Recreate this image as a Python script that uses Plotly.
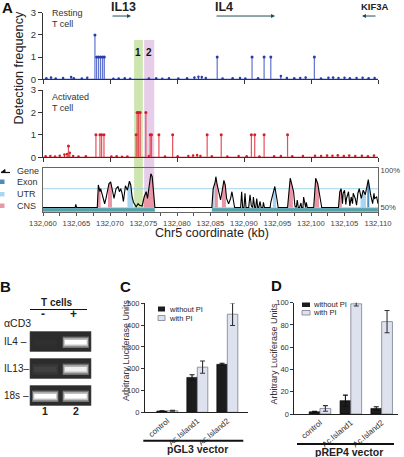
import numpy as np
import plotly.graph_objects as go

W, H = 404, 457
FONT = "Liberation Sans, Arial, sans-serif"

# ---------------- Panel A data ----------------
x_range_kb = [132060, 132110]

resting_spike_kb = [132067.75, 132068.0, 132068.3, 132068.6, 132068.9, 132069.15,
                    132086.0, 132091.2, 132093.0, 132094.0, 132100.5]
resting_spike_val = [2, 1, 1, 1, 1, 1, 1, 1, 1, 1, 1]

resting_noise_kb = [132060.5, 132061.2, 132061.9, 132063.0, 132064.2, 132064.6, 132065.8, 132066.6,
                    132070.5, 132071.3, 132072.2, 132073.0, 132075.8, 132076.9, 132077.8, 132078.8,
                    132080.2, 132081.5, 132082.6, 132083.2, 132083.7, 132084.3, 132086.8, 132088.3,
                    132089.4, 132090.2, 132092.1, 132095.5, 132096.4, 132097.5, 132098.4, 132099.2,
                    132101.5, 132102.6, 132103.3, 132104.1, 132105.0, 132105.8, 132106.8, 132107.7,
                    132108.6, 132109.5]
resting_noise_val = [0.05, 0.08, 0.04, 0.06, 0.1, 0.05, 0.04, 0.07,
                     0.03, 0.04, 0.05, 0.03, 0.04, 0.05, 0.03, 0.05,
                     0.04, 0.05, 0.08, 0.12, 0.1, 0.06, 0.04, 0.05,
                     0.06, 0.04, 0.05, 0.15, 0.06, 0.05, 0.06, 0.08,
                     0.04, 0.07, 0.08, 0.06, 0.07, 0.05, 0.06, 0.07,
                     0.05, 0.06]

activated_spike_kb = [132063.8, 132067.9, 132068.5, 132068.75, 132069.1, 132073.9, 132074.05,
                      132074.25, 132074.5, 132075.35, 132076.0, 132076.2, 132077.3, 132079.35,
                      132084.5, 132086.6, 132091.1, 132091.6, 132093.0, 132096.5]
activated_spike_val = [0.5, 1, 1, 1, 1, 1, 2, 2, 2, 2, 1, 1, 1, 1, 1, 1, 1, 1, 1, 1]

activated_noise_kb = [132060.4, 132061.1, 132061.8, 132062.5, 132063.2, 132063.6, 132064.0, 132064.5,
                      132065.3, 132066.4, 132070.2, 132071.0, 132071.8, 132072.6, 132075.8, 132078.2,
                      132080.1, 132081.7, 132082.4, 132083.0, 132083.5, 132085.2, 132087.5, 132089.2,
                      132090.4, 132092.3, 132094.5, 132095.5, 132097.2, 132098.8, 132100.6, 132101.5,
                      132102.4, 132103.2, 132104.0, 132104.9, 132105.7, 132106.6, 132107.6, 132108.5,
                      132109.4]
activated_noise_val = [0.05, 0.06, 0.04, 0.07, 0.12, 0.15, 0.2, 0.06,
                       0.04, 0.05, 0.04, 0.05, 0.03, 0.04, 0.06, 0.04,
                       0.05, 0.06, 0.08, 0.1, 0.06, 0.05, 0.04, 0.06,
                       0.05, 0.04, 0.05, 0.06, 0.05, 0.06, 0.07, 0.06,
                       0.08, 0.07, 0.09, 0.06, 0.08, 0.06, 0.07, 0.05,
                       0.08]

cons_kb = [132060.0, 132064.8, 132064.9, 132065.0,
           132068.1, 132068.26, 132068.5, 132068.6, 132069.0, 132069.2, 132069.4, 132069.85, 132070.1,
           132070.4, 132070.6, 132070.9, 132071.2, 132071.4, 132071.6, 132071.8, 132072.0, 132072.3,
           132072.6, 132072.9, 132073.1, 132073.3, 132073.5, 132073.9, 132074.2, 132074.4, 132074.8,
           132075.1, 132075.4, 132075.6, 132075.9, 132076.1, 132076.3, 132076.5, 132076.7,
           132085.2, 132085.4, 132085.7, 132085.8, 132086.0, 132086.3, 132086.5, 132086.8, 132087.0,
           132087.2, 132087.4, 132087.7, 132088.0, 132088.2, 132088.4, 132088.6,
           132089.5, 132089.65, 132089.8, 132090.0, 132090.15, 132090.3, 132090.7, 132090.9, 132091.1,
           132091.3, 132091.4, 132091.6, 132091.75, 132091.9, 132092.05, 132092.2, 132092.4, 132092.55,
           132092.8, 132092.9, 132093.05,
           132093.9, 132094.0, 132094.3, 132094.6, 132094.9, 132095.1,
           132096.5, 132096.6, 132096.9, 132097.1, 132097.4, 132097.6, 132097.8, 132097.95, 132098.1,
           132098.3, 132098.5, 132098.6, 132098.8, 132098.9, 132099.1, 132099.2, 132099.3, 132099.45,
           132100.4, 132100.5, 132100.7, 132101.0, 132101.3, 132101.6,
           132104.1, 132104.3, 132104.5, 132104.7, 132104.8, 132105.0, 132105.2, 132105.3, 132105.6,
           132105.8, 132106.0, 132106.2, 132106.3, 132106.6, 132106.8, 132107.0, 132107.2, 132107.5,
           132107.8, 132108.1, 132108.4, 132108.55, 132108.9, 132109.2, 132109.4, 132109.5, 132109.8,
           132110.0]
cons_pct = [50, 50, 54, 50,
            50, 80, 71, 75, 62, 55, 62, 82, 84,
            71, 62, 75, 78, 71, 75, 69, 58, 79,
            73, 85, 80, 64, 57, 51, 55, 53, 52,
            64, 71, 62, 80, 95, 91, 71, 50,
            50, 75, 84, 91, 80, 67, 60, 75, 86,
            80, 62, 55, 62, 71, 57, 50,
            50, 71, 50, 50, 69, 50, 50, 67, 52,
            50, 64, 50, 50, 62, 50, 50, 58, 50,
            50, 57, 50,
            50, 57, 67, 78, 62, 50,
            50, 62, 89, 82, 71, 52, 50, 60, 50,
            50, 56, 50, 50, 64, 50, 50, 57, 50,
            50, 62, 89, 82, 67, 50,
            50, 71, 75, 55, 69, 73, 54, 62, 71,
            52, 64, 55, 69, 62, 53, 69, 75, 62,
            73, 67, 80, 87, 67, 55, 69, 62, 64,
            55]

cons_regions_start = [132068.15, 132069.7, 132075.0, 132085.6, 132086.7, 132096.6, 132100.5,
                      132104.2, 132072.6, 132085.25, 132094.3, 132107.4, 132108.4]
cons_regions_end = [132068.6, 132070.3, 132076.7, 132086.1, 132087.3, 132097.3, 132101.2,
                    132104.6, 132073.5, 132085.6, 132094.8, 132108.2, 132108.7]
cons_regions_type = ["CNS", "CNS", "CNS", "CNS", "CNS", "CNS", "CNS",
                     "CNS", "UTR", "UTR", "UTR", "UTR", "Exon"]

gene_band_start = [132060, 132085.2]
gene_band_end = [132076.7, 132110]

genes = ["IL13", "IL4", "KIF3A"]
gene_tail_kb = [132070.15, 132085.67, 132109.85]
gene_head_kb = [132073.13, 132094.63, 132107.61]

highlight_names = ["1", "2"]
highlight_start = [132073.6, 132075.1]
highlight_end = [132074.9, 132076.6]

# ---------------- Panel B data ----------------
gel_rows = ["IL4", "IL13", "18s"]
gel_lanes = [1, 2]
gel_intensity = {"IL4": [0.02, 1.0], "IL13": [0.1, 0.92], "18s": [1.0, 1.0]}

# ---------------- Panel C / D data ----------------
constructs = ["control", "Ac.Island1", "Ac.Island2"]
pgl3_without = [6, 160, 220]
pgl3_without_err = [1, 12, 5]
pgl3_with = [7, 207, 450]
pgl3_with_err = [2, 28, 52]
prep4_without = [2, 12, 5]
prep4_without_err = [0.5, 5, 1.5]
prep4_with = [5, 99, 83]
prep4_with_err = [2.5, 2, 10]

# ---------------- helpers ----------------
def PX(a):
    return a / W


def PY(b):
    return 1 - b / H


fig = go.Figure()
annotations = []
shapes = []


def text(x, y, s, size=10, bold=False, xanchor="center", color="#222", angle=0, xref="paper", yref="paper"):
    annotations.append(dict(
        x=PX(x) if xref == "paper" else x, y=PY(y) if yref == "paper" else y,
        xref=xref, yref=yref, text=("<b>%s</b>" % s) if bold else s,
        showarrow=False, xanchor=xanchor, yanchor="middle", textangle=angle,
        font=dict(family=FONT, size=size, color=color)))


def rect(x0, y0, x1, y1, color, line=None):
    shapes.append(dict(type="rect", xref="paper", yref="paper", x0=PX(x0), x1=PX(x1),
                       y0=PY(y1), y1=PY(y0), fillcolor=color,
                       line=dict(width=0) if line is None else line))


def hline(x0, x1, y, width=1, color="#111"):
    shapes.append(dict(type="line", xref="paper", yref="paper", x0=PX(x0), x1=PX(x1),
                       y0=PY(y), y1=PY(y), line=dict(color=color, width=width)))


def stems(kb, val):
    xs, ys = [], []
    for k, v in zip(kb, val):
        xs += [k, k, None]
        ys += [0, v, None]
    return xs, ys


# ---------------- Panel A traces ----------------
tracks = [
    ("x", "y", resting_spike_kb, resting_spike_val, resting_noise_kb, resting_noise_val,
     "rgb(95,115,205)", "rgb(40,60,170)"),
    ("x2", "y2", activated_spike_kb, activated_spike_val, activated_noise_kb, activated_noise_val,
     "rgb(228,80,90)", "rgb(212,30,40)"),
]
for xa, ya, skb, sval, nkb, nval, lc, mc in tracks:
    fig.add_trace(go.Scatter(x=x_range_kb, y=[0, 0], mode="lines", line=dict(color=mc, width=1.2),
                             xaxis=xa, yaxis=ya, showlegend=False, hoverinfo="skip"))
    sx, sy = stems(nkb, nval)
    fig.add_trace(go.Scatter(x=sx, y=sy, mode="lines", line=dict(color=mc, width=1),
                             xaxis=xa, yaxis=ya, showlegend=False, hoverinfo="skip"))
    fig.add_trace(go.Scatter(x=nkb, y=nval, mode="markers", marker=dict(color=mc, size=2.5),
                             xaxis=xa, yaxis=ya, showlegend=False, cliponaxis=False))
    sx, sy = stems(skb, sval)
    fig.add_trace(go.Scatter(x=sx, y=sy, mode="lines", line=dict(color=lc, width=1.2),
                             xaxis=xa, yaxis=ya, showlegend=False, hoverinfo="skip"))
    fig.add_trace(go.Scatter(x=skb, y=sval, mode="markers", marker=dict(color=mc, size=3),
                             xaxis=xa, yaxis=ya, showlegend=False, cliponaxis=False))

# conservation fills
fill_colors = {"CNS": "rgb(234,150,166)", "UTR": "rgb(168,214,240)", "Exon": "rgb(80,140,185)"}
for s, e, t in zip(cons_regions_start, cons_regions_end, cons_regions_type):
    xs = [s] + [k for k in cons_kb if s < k < e] + [e]
    ys = list(np.interp(xs, cons_kb, cons_pct))
    fig.add_trace(go.Scatter(x=xs + [e, s], y=ys + [50, 50], fill="toself", fillcolor=fill_colors[t],
                             mode="lines", line=dict(width=0), xaxis="x3", yaxis="y3",
                             showlegend=False, hoverinfo="skip"))
# gene band
for s, e in zip(gene_band_start, gene_band_end):
    fig.add_trace(go.Scatter(x=[s, e, e, s], y=[44.2, 44.2, 49.5, 49.5], fill="toself",
                             fillcolor="rgb(86,160,170)", mode="lines",
                             line=dict(width=0.6, color="rgb(150,205,215)"),
                             xaxis="x3", yaxis="y3", showlegend=False, hoverinfo="skip"))
fig.add_trace(go.Scatter(x=cons_kb, y=cons_pct, mode="lines", line=dict(color="#000", width=1.1),
                         xaxis="x3", yaxis="y3", showlegend=False))

# highlight bands
band_colors = ["rgb(196,224,160)", "rgb(226,196,228)"]
for n, s, e, c in zip(highlight_names, highlight_start, highlight_end, band_colors):
    shapes.append(dict(type="rect", xref="x3", yref="paper", x0=s, x1=e, y0=PY(208), y1=PY(40),
                       fillcolor=c, line=dict(width=0), layer="below", opacity=0.85))
    annotations.append(dict(x=(s + e) / 2, y=PY(45), xref="x3", yref="paper", text="<b>%s</b>" % n,
                            showarrow=False, font=dict(family=FONT, size=10, color="#111")))

# 75% guide line in conservation panel
shapes.append(dict(type="line", xref="x3 domain", yref="y3", x0=0, x1=1, y0=75, y1=75,
                   line=dict(color="rgb(160,215,235)", width=1), layer="below"))

# gene arrows and labels
for g, t, h in zip(genes, gene_tail_kb, gene_head_kb):
    annotations.append(dict(x=h, y=2.85, ax=t, ay=2.85, xref="x", yref="y", axref="x", ayref="y",
                            text="", showarrow=True, arrowhead=2, arrowsize=0.8, arrowwidth=1,
                            arrowcolor="#1d4f5c", standoff=0, startstandoff=0))
text(123.5, 6.5, "IL13", 12.5, True)
text(223.5, 6.5, "IL4", 12.5, True)
text(375, 7, "KIF3A", 9.5, True)

text(7, 8, "A", 15, True, color="#111")
text(50, 13, "Resting", 9, xanchor="left", color="#333")
text(50, 23.5, "T cell", 9, xanchor="left", color="#333")
text(50, 97, "Activated", 9, xanchor="left", color="#333")
text(50, 107.5, "T cell", 9, xanchor="left", color="#333")
text(19, 68.5, "Detection frequency", 12.7, angle=-90, color="#222")
text(212, 233, "Chr5 coordinate (kb)", 12.5, color="#222")

# conservation legend
shapes.append(dict(type="path", xref="paper", yref="paper",
                   path="M %f %f L %f %f L %f %f Z" % (PX(1), PY(172.5), PX(5), PY(169.5), PX(5), PY(172.5)),
                   fillcolor="#111", line=dict(color="#111", width=1)))
hline(1, 10, 172.5, 1.2)
text(15, 171, "Gene", 9, xanchor="left", color="#333")
rect(0, 179.5, 4.5, 184, fill_colors["Exon"])
text(15, 182, "Exon", 9, xanchor="left", color="#333")
rect(0, 192, 4.5, 196.5, fill_colors["UTR"])
text(15, 194.3, "UTR", 9, xanchor="left", color="#333")
rect(0, 203.5, 4.5, 208, fill_colors["CNS"])
text(15, 206, "CNS", 9, xanchor="left", color="#333")

# ---------------- Panel B: gel ----------------
row_pos = {r: i for i, r in enumerate(gel_rows)}
for r in gel_rows:
    y = row_pos[r]
    shapes.append(dict(type="rect", xref="x4 domain", yref="y4", x0=0, x1=1, y0=y - 0.37, y1=y + 0.37,
                       fillcolor="rgb(44,44,44)", line=dict(color="rgb(80,80,80)", width=0.6), layer="below"))
    inten = gel_intensity[r]
    for scale, w, hgt in [(0.35, 0.86, 0.42), (0.7, 0.8, 0.3), (1.0, 0.72, 0.17)]:
        cols = []
        for v in inten:
            c = int(44 + (255 - 44) * v * scale)
            cols.append("rgb(%d,%d,%d)" % (c, c, c))
        fig.add_trace(go.Bar(x=gel_lanes, y=[hgt] * 2, base=[y - hgt / 2 + 0.03] * 2, width=w, offset=-w / 2,
                             marker=dict(color=cols, line=dict(width=0)), xaxis="x4", yaxis="y4",
                             showlegend=False, hoverinfo="skip"))
    annotations.append(dict(x=PX(1.5), y=y, xref="paper", yref="y4",
                            text=r + (" \u2013" if r != "IL13" else "\u2013"),
                            showarrow=False, xanchor="left", font=dict(family=FONT, size=10, color="#222")))
for ln in gel_lanes:
    annotations.append(dict(x=ln, y=PY(419), xref="x4", yref="paper", text="<b>%d</b>" % ln,
                            showarrow=False, font=dict(family=FONT, size=10.5, color="#222")))
    annotations.append(dict(x=ln - 0.07, y=PY(323), xref="x4", yref="paper", text="<b>%s</b>" % ("-" if ln == 1 else "+"),
                            showarrow=False, font=dict(family=FONT, size=12, color="#222")))
text(5, 286, "B", 15, True, color="#111")
text(57.5, 302.5, "T cells", 10, True)
hline(30, 87, 309.5, 1)
text(17.5, 323, "\u03b1CD3", 10.5)

# ---------------- Panels C & D ----------------
idx = [0, 1, 2]
for xa, ya, wo, woe, wi, wie in [("x5", "y5", pgl3_without, pgl3_without_err, pgl3_with, pgl3_with_err),
                                 ("x6", "y6", prep4_without, prep4_without_err, prep4_with, prep4_with_err)]:
    fig.add_trace(go.Bar(x=idx, y=wo, width=0.35, offset=-0.35, xaxis=xa, yaxis=ya,
                         marker=dict(color="rgb(28,28,28)", line=dict(color="#000", width=0.6)),
                         error_y=dict(type="data", array=woe, color="#111", thickness=1.1, width=2.5),
                         showlegend=False, cliponaxis=False))
    fig.add_trace(go.Bar(x=idx, y=wi, width=0.35, offset=0, xaxis=xa, yaxis=ya,
                         marker=dict(color="rgb(222,226,238)", line=dict(color="rgb(120,126,145)", width=0.8)),
                         error_y=dict(type="data", array=wie, color="#333", thickness=1.1, width=2.5),
                         showlegend=False, cliponaxis=False))

text(125, 286.5, "C", 15, True, color="#111")
text(126, 350, "Arbitrary Luciferase Units", 9, angle=-90, color="#333")
rect(158, 306.5, 165, 311.5, "rgb(28,28,28)")
text(166.5, 309, "without PI", 7.5, xanchor="left")
rect(158, 315.5, 165, 320.5, "rgb(222,226,238)", dict(color="rgb(120,126,145)", width=0.8))
text(166.5, 318, "with PI", 7.5, xanchor="left")
hline(143.3, 243.3, 440.7, 2)
text(197, 449, "pGL3 vector", 10.5, True)

text(276.7, 285.5, "D", 15, True, color="#111")
text(273.5, 354, "Arbitrary Luciferase Units", 9, angle=-90, color="#333")
rect(302, 302.5, 310, 307, "rgb(28,28,28)")
text(311, 304.8, "without PI", 7.5, xanchor="left")
rect(302, 310.5, 310, 315, "rgb(222,226,238)", dict(color="rgb(120,126,145)", width=0.8))
text(311, 312.8, "with PI", 7.5, xanchor="left")
hline(297, 394, 444, 2)
text(349, 452, "pREP4 vector", 10.5, True)

# ---------------- layout ----------------
tickf = dict(family=FONT, size=9.5, color="#333")
track_x = dict(domain=[PX(43), PX(378)], range=x_range_kb, showline=True, linecolor="#333", linewidth=1,
               ticks="outside", ticklen=4, tickcolor="#333", tickvals=list(range(132060, 132111, 10)),
               showticklabels=False, showgrid=False, zeroline=False)
track_y = dict(range=[0, 3], tickvals=[0, 1, 2, 3], ticks="outside", ticklen=4, tickcolor="#333",
               showline=True, linecolor="#333", tickfont=tickf, showgrid=False, zeroline=False)

cons_ticks = [132060 + 2.5 * i for i in range(21)]
cons_text = ["{:,}".format(int(v)) if i % 2 == 0 else "" for i, v in enumerate(cons_ticks)]

bar_x = dict(tickvals=idx, ticktext=constructs, tickangle=-40, ticks="", showline=True, linecolor="#222",
             tickfont=dict(family=FONT, size=8, color="#333"), showgrid=False, zeroline=False)
bar_y = dict(ticks="outside", ticklen=3, tickcolor="#333", showline=True, linecolor="#222",
             tickfont=dict(family=FONT, size=7.5, color="#333"), showgrid=False, zeroline=False)

fig.update_layout(
    width=W, height=H, margin=dict(l=0, r=0, t=0, b=0, autoexpand=False),
    paper_bgcolor="white", plot_bgcolor="rgba(0,0,0,0)", barmode="overlay",
    font=dict(family=FONT),
    xaxis=dict(track_x, anchor="y"),
    yaxis=dict(track_y, domain=[PY(79.3), PY(12.7)], anchor="x"),
    xaxis2=dict(track_x, anchor="y2"),
    yaxis2=dict(track_y, domain=[PY(157.3), PY(90)], anchor="x2"),
    xaxis3=dict(domain=[PX(43), PX(378)], range=x_range_kb, anchor="y3", tickvals=cons_ticks,
                ticktext=cons_text, ticks="outside", ticklen=3, tickcolor="#555", showline=True,
                mirror=True, linecolor="#666", tickfont=dict(family=FONT, size=7.7, color="#444"),
                tickangle=0, showgrid=False, zeroline=False),
    yaxis3=dict(domain=[PY(212.3), PY(167.7)], range=[43.6, 103], anchor="x3", side="right",
                tickvals=[50, 100], ticktext=["50%", "100%"], ticks="", showline=True, mirror=True,
                linecolor="#666", tickfont=dict(family=FONT, size=7.7, color="#444"),
                showgrid=False, zeroline=False),
    xaxis4=dict(domain=[PX(30), PX(91)], range=[0.5, 2.5], anchor="y4", visible=False),
    yaxis4=dict(domain=[PY(406), PY(331)], range=[2.389, -0.389], anchor="x4", visible=False),
    xaxis5=dict(bar_x, domain=[PX(145), PX(248)], range=[-0.743, 2.69], anchor="y5"),
    yaxis5=dict(bar_y, domain=[PY(412.3), PY(303.3)], range=[0, 500], dtick=100, anchor="x5"),
    xaxis6=dict(bar_x, domain=[PX(294.3), PX(398)], range=[-0.833, 2.53], anchor="y6"),
    yaxis6=dict(bar_y, domain=[PY(414), PY(302.7)], range=[0, 100], dtick=20, anchor="x6"),
    annotations=annotations, shapes=shapes,
)

fig.write_html("out.html", config={"displayModeBar": False},
               post_script="document.body.style.margin='0';document.body.style.overflow='hidden';")
